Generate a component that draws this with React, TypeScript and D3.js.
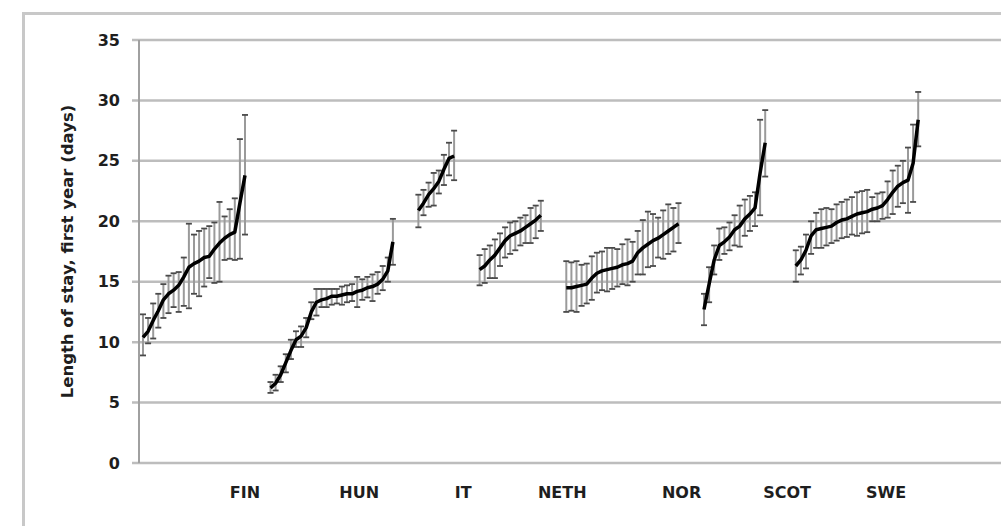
import React from "react";
import * as d3 from "d3";

// [mean, lower, upper] per unit, sorted, for each country group
const fin: number[][] = [
  [10.4, 8.9, 12.3], [10.9, 9.9, 12.0], [11.8, 10.3, 13.2], [12.6, 11.2, 14.0], [13.5, 12.0, 14.8],
  [14.0, 12.4, 15.5], [14.3, 12.9, 15.7], [14.7, 12.5, 15.8], [15.4, 13.0, 17.0], [16.2, 12.8, 19.8],
  [16.5, 14.0, 18.9], [16.7, 13.8, 19.2], [17.0, 14.6, 19.4], [17.1, 15.3, 19.6], [17.7, 14.9, 19.9],
  [18.2, 15.0, 21.6], [18.6, 16.8, 20.4], [18.9, 16.9, 21.0], [19.1, 16.8, 21.9], [21.5, 16.9, 26.8],
  [23.8, 18.9, 28.8],
];
const hun: number[][] = [
  [6.2, 5.8, 6.7], [6.6, 6.0, 7.3], [7.3, 6.7, 8.0], [8.3, 7.5, 9.0], [9.3, 8.6, 10.2],
  [10.2, 9.6, 10.9], [10.5, 9.6, 11.3], [11.2, 10.4, 12.0], [12.5, 11.9, 13.3], [13.3, 12.2, 14.4],
  [13.5, 12.9, 14.4], [13.6, 12.9, 14.4], [13.8, 13.1, 14.4], [13.8, 13.2, 14.4], [13.9, 13.1, 14.6],
  [14.0, 13.3, 14.7], [14.0, 13.4, 14.8], [14.2, 12.9, 15.4], [14.3, 13.5, 15.2], [14.5, 13.7, 15.4],
  [14.6, 13.4, 15.6], [14.8, 14.0, 15.8], [15.2, 14.3, 16.3], [15.9, 15.0, 17.0], [18.3, 16.4, 20.2],
];
const it: number[][] = [
  [20.9, 19.5, 22.2], [21.5, 20.5, 22.6], [22.2, 21.2, 23.2], [22.7, 21.3, 24.0],
  [23.3, 22.3, 24.2], [24.3, 23.0, 25.5], [25.2, 23.8, 26.5], [25.4, 23.4, 27.5],
];
const neth: number[][] = [
  [16.0, 14.7, 17.2], [16.3, 14.9, 17.7], [16.8, 15.3, 18.0], [17.2, 15.3, 18.5], [17.8, 16.3, 19.0],
  [18.4, 17.0, 19.5], [18.8, 17.3, 19.9], [19.0, 17.6, 20.0], [19.2, 18.0, 20.3], [19.5, 18.2, 20.5],
  [19.8, 18.2, 21.1], [20.1, 18.6, 21.3], [20.5, 19.2, 21.7],
];
const nor: number[][] = [
  [14.5, 12.5, 16.7], [14.5, 12.6, 16.6], [14.6, 12.5, 16.7], [14.7, 13.0, 16.4], [14.8, 13.2, 16.5],
  [15.3, 13.5, 17.1], [15.7, 14.1, 17.4], [15.9, 14.3, 17.5], [16.0, 14.2, 17.8], [16.1, 14.4, 17.8],
  [16.2, 14.6, 17.7], [16.4, 14.8, 18.1], [16.5, 14.7, 18.5], [16.7, 15.0, 18.3], [17.4, 15.6, 19.2],
  [17.8, 15.6, 20.1], [18.1, 16.2, 20.8], [18.4, 16.3, 20.6], [18.6, 17.0, 20.3], [18.9, 16.9, 20.9],
  [19.2, 17.3, 21.4], [19.5, 17.5, 21.1], [19.8, 18.2, 21.5],
];
const scot: number[][] = [
  [12.7, 11.4, 14.0], [14.8, 13.3, 16.2], [16.8, 15.6, 18.0], [18.0, 16.8, 19.4], [18.3, 17.3, 19.5],
  [18.7, 17.6, 19.9], [19.3, 18.0, 20.5], [19.6, 17.9, 21.3], [20.2, 18.8, 21.8], [20.6, 19.2, 22.1],
  [21.1, 19.6, 22.4], [24.0, 20.5, 28.4], [26.5, 23.7, 29.2],
];
const swe: number[][] = [
  [16.3, 15.0, 17.6], [16.8, 15.6, 17.9], [17.6, 16.1, 18.9], [18.8, 17.3, 20.0], [19.3, 17.8, 20.7],
  [19.4, 17.8, 21.0], [19.5, 18.0, 21.1], [19.6, 18.2, 21.0], [19.9, 18.4, 21.4], [20.1, 18.6, 21.6],
  [20.2, 18.7, 21.8], [20.4, 18.9, 22.0], [20.6, 18.8, 22.4], [20.7, 19.0, 22.5], [20.8, 19.1, 22.6],
  [21.0, 20.0, 22.0], [21.1, 20.0, 22.3], [21.3, 20.2, 22.4], [21.8, 20.3, 23.3], [22.4, 20.6, 24.2],
  [22.9, 21.2, 24.6], [23.2, 21.5, 25.0], [23.4, 20.7, 26.1], [24.8, 21.6, 28.0], [28.4, 26.2, 30.7],
];

const categories = ["FIN", "HUN", "IT", "NETH", "NOR", "SCOT", "SWE"];
const seriesList = [fin, hun, it, neth, nor, scot, swe];
// first category index of each group on the category axis
const groupStart = [0, 25, 54, 66, 83, 110, 128];
// category index where each axis label is printed
const labelIndex = [20, 42.4, 62.8, 82.2, 105.6, 126.3, 145.7];
const yTicks = [0, 5, 10, 15, 20, 25, 30, 35];
const yTitle = "Length of stay, first year (days)";

const W = 1001;
const H = 526;

export default function App() {
  const x = d3.scaleLinear().domain([0, 152]).range([143, 918.2]);
  const y = d3.scaleLinear().domain([0, 35]).range([463, 40]);
  const axisX = 139;
  const font = "'DejaVu Sans', sans-serif";
  const line = d3
    .line<[number, number]>()
    .x((d) => x(d[0]))
    .y((d) => y(d[1]));

  return (
    <svg
      width={W}
      height={H}
      style={{ position: "absolute", left: 0, top: 0, background: "#fff" }}
    >
      <rect x={0} y={0} width={W} height={H} fill="#fff" />
      {/* outer frame */}
      <line x1={22} y1={13.5} x2={W} y2={13.5} stroke="#c8c8c8" strokeWidth={3} />
      <line x1={23.5} y1={12} x2={23.5} y2={H} stroke="#c8c8c8" strokeWidth={3} />

      {/* gridlines */}
      {yTicks.map((t) => (
        <line
          key={t}
          x1={132}
          x2={W}
          y1={y(t)}
          y2={y(t)}
          stroke="#bdbdbd"
          strokeWidth={2.5}
        />
      ))}
      {/* y axis */}
      <line x1={axisX} x2={axisX} y1={y(35)} y2={y(0)} stroke="#a0a0a0" strokeWidth={2} />

      {/* tick labels */}
      {yTicks.map((t) => (
        <text
          key={t}
          x={120}
          y={y(t)}
          textAnchor="end"
          dominantBaseline="central"
          fontFamily={font}
          fontWeight="bold"
          fontSize={16}
          fill="#1e1e1e"
        >
          {t}
        </text>
      ))}

      {/* y title */}
      <text
        transform={`translate(67,${(103 + 400) / 2}) rotate(-90)`}
        textAnchor="middle"
        dominantBaseline="central"
        fontFamily={font}
        fontWeight="bold"
        fontSize={16.5}
        fill="#1e1e1e"
      >
        {yTitle}
      </text>

      {/* category labels */}
      {categories.map((c, i) => (
        <text
          key={c}
          x={x(labelIndex[i])}
          y={492}
          textAnchor="middle"
          dominantBaseline="central"
          fontFamily={font}
          fontWeight="bold"
          fontSize={16}
          fill="#1e1e1e"
        >
          {c}
        </text>
      ))}

      {/* error bars */}
      {seriesList.map((s, gi) =>
        s.map((d, k) => {
          const cx = x(groupStart[gi] + k);
          return (
            <g key={`${gi}-${k}`}>
              <line x1={cx} x2={cx} y1={y(d[1])} y2={y(d[2])} stroke="#9a9a9a" strokeWidth={2} />
              <line x1={cx - 3} x2={cx + 3} y1={y(d[1])} y2={y(d[1])} stroke="#4a4a4a" strokeWidth={1.8} />
              <line x1={cx - 3} x2={cx + 3} y1={y(d[2])} y2={y(d[2])} stroke="#4a4a4a" strokeWidth={1.8} />
            </g>
          );
        })
      )}

      {/* mean lines */}
      {seriesList.map((s, gi) => (
        <path
          key={gi}
          d={line(s.map((d, k) => [groupStart[gi] + k, d[0]] as [number, number])) || ""}
          fill="none"
          stroke="#000"
          strokeWidth={3.5}
          strokeLinejoin="round"
        />
      ))}
    </svg>
  );
}
